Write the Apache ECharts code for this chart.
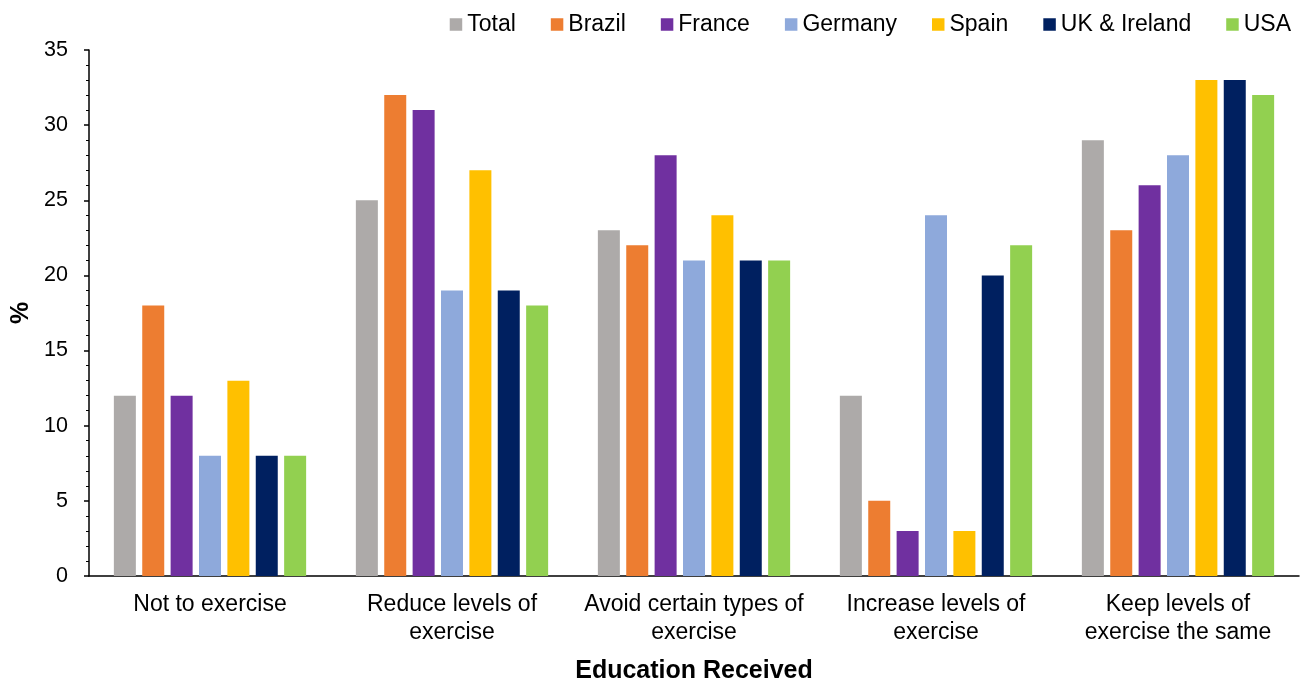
<!DOCTYPE html>
<html>
<head>
<meta charset="utf-8">
<script src="https://cdn.jsdelivr.net/npm/echarts@6/dist/echarts.min.js"></script>
<style>html,body{margin:0;padding:0;background:#fff}#c{width:1301px;height:682px}</style>
</head>
<body>
<div id="c"></div>
<script>
var categories = ["Not to exercise", "Reduce levels of\nexercise", "Avoid certain types of\nexercise", "Increase levels of\nexercise", "Keep levels of\nexercise the same"];
var seriesNames = ["Total", "Brazil", "France", "Germany", "Spain", "UK & Ireland", "USA"];
var total = [12, 25, 23, 12, 29];
var brazil = [18, 32, 22, 5, 23];
var france = [12, 31, 28, 3, 26];
var germany = [8, 19, 21, 24, 28];
var spain = [13, 27, 24, 3, 33];
var ukIreland = [8, 19, 21, 20, 33];
var usa = [8, 18, 21, 22, 32];
var yTicks = [0, 5, 10, 15, 20, 25, 30, 35];

var values = [total, brazil, france, germany, spain, ukIreland, usa];
var colors = ["#ADAAA9", "#ED7D31", "#7030A0", "#8EA9DB", "#FFC000", "#002060", "#92D050"];
var font = "Liberation Sans, Arial, sans-serif";

var chart = echarts.init(document.getElementById('c'));
chart.setOption({
  animation: false,
  textStyle: {fontFamily: font},
  legend: {
    top: 8, right: 5,
    itemWidth: 12.5, itemHeight: 12.5, itemGap: 35,
    icon: 'rect',
    textStyle: {fontSize: 23, color: '#000', fontFamily: font, padding: [0, 0, 0, 0]},
    data: seriesNames
  },
  grid: {left: 89, right: 2, top: 50, bottom: 106, containLabel: false, outerBoundsMode: 'none'},
  xAxis: {
    type: 'category',
    data: categories,
    name: 'Education Received',
    nameLocation: 'middle',
    nameGap: 83,
    nameTextStyle: {fontSize: 25, fontWeight: 'bold', color: '#000', fontFamily: font},
    axisLine: {lineStyle: {color: '#000', width: 1.5}},
    axisTick: {alignWithLabel: true, length: 6, lineStyle: {color: '#000', width: 1.5}},
    axisLabel: {fontSize: 23, color: '#000', margin: 15, lineHeight: 28, interval: 0, fontFamily: font}
  },
  yAxis: {
    type: 'value',
    min: yTicks[0], max: yTicks[yTicks.length - 1], interval: 5,
    name: '%',
    nameLocation: 'middle',
    nameGap: 51,
    nameRotate: 90,
    nameTextStyle: {fontSize: 25, fontWeight: 'bold', color: '#000', fontFamily: font},
    axisLine: {show: true, lineStyle: {color: '#000', width: 1.5}},
    axisTick: {show: true, length: 5, lineStyle: {color: '#000', width: 1.5}},
    minorTick: {show: true, splitNumber: 5, length: 3, lineStyle: {color: '#000', width: 1}},
    splitLine: {show: false},
    axisLabel: {fontSize: 21.5, color: '#000', margin: 21, fontFamily: font}
  },
  series: seriesNames.map(function (n, i) {
    return {
      name: n, type: 'bar', data: values[i],
      itemStyle: {color: colors[i]},
      barWidth: 22, barGap: '29%'
    };
  })
});
</script>
</body>
</html>
